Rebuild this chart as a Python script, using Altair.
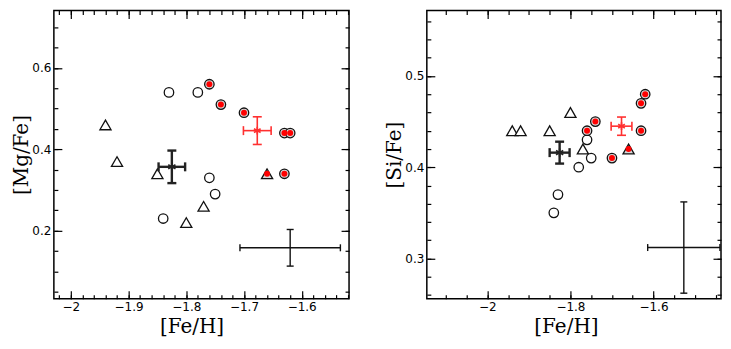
import altair as alt
import pandas as pd

# ---------------- data ----------------
feh_open = [-1.83, -1.78, -1.76, -1.75, -1.84]
mgfe_open = [0.54, 0.54, 0.33, 0.29, 0.23]
sife_open = [0.37, 0.40, 0.43, 0.41, 0.35]

feh_tri = [-1.94, -1.92, -1.85, -1.80, -1.77]
mgfe_tri = [0.46, 0.37, 0.34, 0.22, 0.26]
sife_tri = [0.44, 0.44, 0.44, 0.46, 0.42]

feh_red = [-1.76, -1.74, -1.70, -1.63, -1.62, -1.63]
mgfe_red = [0.56, 0.51, 0.49, 0.44, 0.44, 0.34]
sife_red = [0.44, 0.45, 0.41, 0.47, 0.48, 0.44]

feh_redtri = [-1.66]
mgfe_redtri = [0.34]
sife_redtri = [0.42]

# [Fe/H], err([Fe/H]), [X/Fe], err([X/Fe])
red_mean_mg = [-1.677, 0.024, 0.446, 0.034]
red_mean_si = [-1.677, 0.025, 0.445, 0.010]
blk_mean_mg = [-1.825, 0.023, 0.357, 0.040]
blk_mean_si = [-1.826, 0.024, 0.416, 0.012]
typ_err_mg = [-1.620, 0.087, 0.158, 0.045]
typ_err_si = [-1.527, 0.087, 0.312, 0.050]

# axis ticks
left_x_major = [-2.0, -1.9, -1.8, -1.7, -1.6]
left_x_minor = [round(-2.02 + 0.02 * i, 2) for i in range(26)]
left_y_major = [0.2, 0.4, 0.6]
left_y_minor = [round(0.05 + 0.05 * i, 2) for i in range(14)]
right_x_major = [-2.0, -1.8, -1.6]
right_x_minor = [round(-2.10 + 0.05 * i, 2) for i in range(14)]
right_y_major = [0.3, 0.4, 0.5]
right_y_minor = [round(0.26 + 0.02 * i, 2) for i in range(16)]

RED = "#ff0000"
RED_BAR = "#ff3030"
INK = "#111111"


def err_df(e):
    f, fe, v, ve = e
    return pd.DataFrame({"x": [f], "xlo": [f - fe], "xhi": [f + fe],
                         "y": [v], "ylo": [v - ve], "yhi": [v + ve]})


def panel(W, H, xdom, ydom, xmaj, xmin, ymaj, ymin, ytitle, title_dx,
          vopen, vtri, vred, vredtri, rmean, bmean, typ):
    xs = alt.Scale(domain=xdom, nice=False, zero=False)
    ys = alt.Scale(domain=ydom, nice=False, zero=False)

    tick_common = dict(domain=False, grid=False, tickColor="black", tickWidth=1.2)
    ax_xb = alt.Axis(orient="bottom", values=xmaj, tickSize=8, offset=-8, format="~g",
                     labelFont="DejaVu Sans", labelFontSize=12, labelColor="black",
                     labelPadding=3, title="[Fe/H]", titleFont="DejaVu Serif",
                     titleFontSize=20, titleFontWeight="normal", titleColor="black",
                     titlePadding=4, titleX=W / 2 - title_dx, **tick_common)
    ax_xb2 = alt.Axis(orient="bottom", values=xmin, tickSize=4, offset=-4, labels=False,
                      title=None, **tick_common)
    ax_xt = alt.Axis(orient="top", values=xmaj, tickSize=8, offset=-8, labels=False,
                     title=None, **tick_common)
    ax_xt2 = alt.Axis(orient="top", values=xmin, tickSize=4, offset=-4, labels=False,
                      title=None, **tick_common)
    ax_yl = alt.Axis(orient="left", values=ymaj, tickSize=8, offset=-8, format="~g",
                     labelFont="DejaVu Sans", labelFontSize=12, labelColor="black",
                     labelPadding=3, title=ytitle, titleFont="DejaVu Serif",
                     titleFontSize=20, titleFontWeight="normal", titleColor="black",
                     titlePadding=0, **tick_common)
    ax_yl2 = alt.Axis(orient="left", values=ymin, tickSize=4, offset=-4, labels=False,
                      title=None, **tick_common)
    ax_yr = alt.Axis(orient="right", values=ymaj, tickSize=8, offset=-8, labels=False,
                     title=None, **tick_common)
    ax_yr2 = alt.Axis(orient="right", values=ymin, tickSize=4, offset=-4, labels=False,
                      title=None, **tick_common)

    def enc(xaxis=None, yaxis=None, xf="x", yf="y"):
        return dict(x=alt.X(xf, type="quantitative", scale=xs, axis=xaxis),
                    y=alt.Y(yf, type="quantitative", scale=ys, axis=yaxis))

    d_open = pd.DataFrame({"x": vopen[0], "y": vopen[1]})
    d_tri = pd.DataFrame({"x": vtri[0], "y": vtri[1]})
    d_red = pd.DataFrame({"x": vred[0], "y": vred[1]})
    d_redtri = pd.DataFrame({"x": vredtri[0], "y": vredtri[1]})

    layers = []
    layers.append(alt.Chart(d_tri).mark_point(shape="triangle-up", fill="white", stroke=INK,
                                              strokeWidth=1.3, size=125, opacity=1)
                  .encode(**enc(ax_xb, ax_yl)))
    layers.append(alt.Chart(d_open).mark_point(shape="circle", fill="white", stroke=INK,
                                               strokeWidth=1.3, size=90, opacity=1)
                  .encode(**enc(ax_xb2, ax_yl2)))
    layers.append(alt.Chart(d_red).mark_point(shape="circle", fill="#d8d8d8", stroke=INK,
                                              strokeWidth=1.3, size=90, opacity=1)
                  .encode(**enc(ax_xt, ax_yr)))
    layers.append(alt.Chart(d_red).mark_point(shape="circle", filled=True, fill=RED,
                                              strokeWidth=0, size=36, opacity=1)
                  .encode(**enc(ax_xt2, ax_yr2)))
    layers.append(alt.Chart(d_redtri).mark_point(shape="triangle-up", fill="#d8d8d8", stroke=INK,
                                                 strokeWidth=1.3, size=125, opacity=1)
                  .encode(**enc()))
    layers.append(alt.Chart(d_redtri).mark_point(shape="circle", filled=True, fill=RED,
                                                 strokeWidth=0, size=36, opacity=1)
                  .encode(**enc()))

    def errbar(e, color, width, cap):
        d = err_df(e)
        out = []
        out.append(alt.Chart(d).mark_rule(color=color, strokeWidth=width)
                   .encode(x=alt.X("xlo:Q", scale=xs, axis=None), x2="xhi:Q",
                           y=alt.Y("y:Q", scale=ys, axis=None)))
        out.append(alt.Chart(d).mark_rule(color=color, strokeWidth=width)
                   .encode(x=alt.X("x:Q", scale=xs, axis=None),
                           y=alt.Y("ylo:Q", scale=ys, axis=None), y2="yhi:Q"))
        for f in ("xlo", "xhi"):
            out.append(alt.Chart(d).mark_tick(orient="vertical", color=color, size=cap,
                                              thickness=width, opacity=1)
                       .encode(**enc(xf=f)))
        for f in ("ylo", "yhi"):
            out.append(alt.Chart(d).mark_tick(orient="horizontal", color=color, size=cap,
                                              thickness=width, opacity=1)
                       .encode(**enc(yf=f)))
        return out

    layers += errbar(typ, INK, 1.4, 7)
    layers += errbar(bmean, "#222222", 2.4, 9)
    layers += errbar(rmean, RED_BAR, 1.6, 9)

    star = "M0,-1L0,1M-0.866,-0.5L0.866,0.5M-0.866,0.5L0.866,-0.5"
    layers.append(alt.Chart(err_df(bmean)).mark_point(shape=star, filled=False, stroke="#222222",
                                                      strokeWidth=1.6, size=70, opacity=1)
                  .encode(**enc()))
    layers.append(alt.Chart(err_df(rmean)).mark_point(shape=star, filled=False, stroke=RED_BAR,
                                                      strokeWidth=1.6, size=60, opacity=1)
                  .encode(**enc()))

    return (alt.layer(*layers)
            .resolve_axis(x="independent", y="independent")
            .properties(width=W, height=H))


left = panel(296, 289, [-2.0294, -1.518], [0.033, 0.7414],
             left_x_major, left_x_minor, left_y_major, left_y_minor, "[Mg/Fe]", 10,
             (feh_open, mgfe_open), (feh_tri, mgfe_tri), (feh_red, mgfe_red),
             (feh_redtri, mgfe_redtri), red_mean_mg, blk_mean_mg, typ_err_mg)

right = panel(295, 289, [-2.1457, -1.4375], [0.256, 0.5718],
              right_x_major, right_x_minor, right_y_major, right_y_minor, "[Si/Fe]", 8,
              (feh_open, sife_open), (feh_tri, sife_tri), (feh_red, sife_red),
              (feh_redtri, sife_redtri), red_mean_si, blk_mean_si, typ_err_si)

chart = (alt.hconcat(left, right, spacing=78)
         .properties(bounds="flush", padding={"left": 3, "top": 0, "right": 0, "bottom": 0})
         .configure_view(stroke="black", strokeWidth=1.5))

chart.save("out.html", embed_options={"renderer": "svg", "actions": False})
